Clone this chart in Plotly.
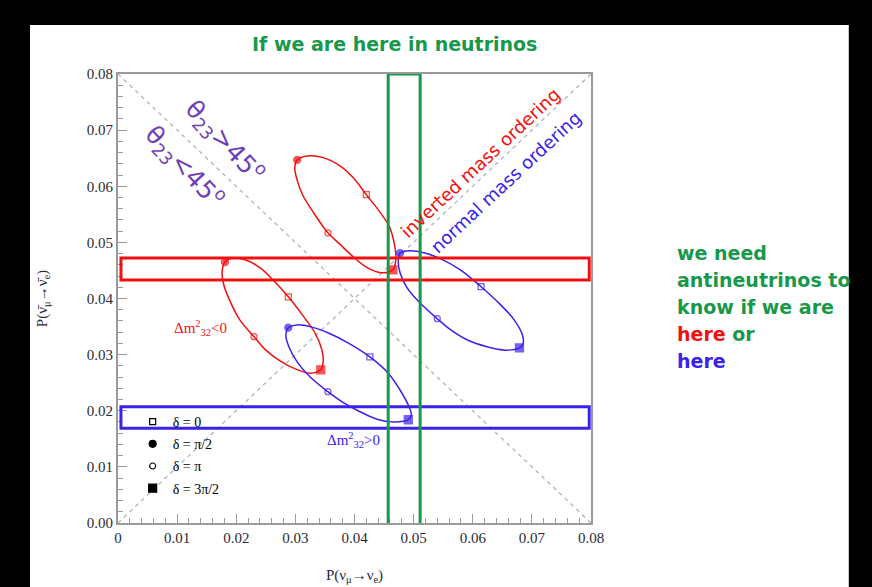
import plotly.graph_objects as go

# ---------------- data ----------------
# Ellipse outlines: P(nu_mu->nu_e) (x) vs P(anti-nu_mu->anti-nu_e) (y), delta swept 0..2pi
io_upper_x = [0.0303, 0.0320, 0.0347, 0.0376, 0.0398, 0.0420, 0.0443, 0.0459, 0.0467, 0.0470,
              0.0465, 0.0445, 0.0420, 0.0396, 0.0376, 0.0355, 0.0332, 0.0313, 0.0303, 0.0299, 0.0303]
io_upper_y = [0.0647, 0.0654, 0.0651, 0.0636, 0.0615, 0.0585, 0.0554, 0.0528, 0.0499, 0.0472,
              0.0451, 0.0446, 0.0456, 0.0476, 0.0496, 0.0517, 0.0551, 0.0583, 0.0611, 0.0633, 0.0647]

io_lower_x = [0.0181, 0.0195, 0.0215, 0.0240, 0.0264, 0.0288, 0.0313, 0.0333, 0.0345, 0.0347,
              0.0343, 0.0325, 0.0299, 0.0274, 0.0250, 0.0230, 0.0206, 0.0190, 0.0179, 0.0176, 0.0181]
io_lower_y = [0.0465, 0.0472, 0.0469, 0.0455, 0.0431, 0.0403, 0.0369, 0.0339, 0.0308, 0.0287,
              0.0273, 0.0267, 0.0275, 0.0289, 0.0308, 0.0332, 0.0362, 0.0394, 0.0424, 0.0447, 0.0465]

no_upper_x = [0.0477, 0.0494, 0.0519, 0.0545, 0.0579, 0.0614, 0.0646, 0.0670, 0.0684, 0.0685,
              0.0679, 0.0655, 0.0624, 0.0591, 0.0563, 0.0540, 0.0511, 0.0489, 0.0477, 0.0474, 0.0477]
no_upper_y = [0.0481, 0.0485, 0.0481, 0.0471, 0.0451, 0.0421, 0.0390, 0.0362, 0.0335, 0.0319,
              0.0312, 0.0308, 0.0314, 0.0326, 0.0344, 0.0364, 0.0392, 0.0419, 0.0446, 0.0465, 0.0481]

no_lower_x = [0.0288, 0.0303, 0.0328, 0.0355, 0.0389, 0.0426, 0.0457, 0.0477, 0.0491, 0.0496,
              0.0491, 0.0467, 0.0438, 0.0406, 0.0379, 0.0355, 0.0325, 0.0303, 0.0289, 0.0284, 0.0288]
no_lower_y = [0.0348, 0.0353, 0.0349, 0.0339, 0.0321, 0.0296, 0.0267, 0.0237, 0.0210, 0.0193,
              0.0184, 0.0180, 0.0185, 0.0200, 0.0216, 0.0234, 0.0260, 0.0287, 0.0314, 0.0333, 0.0348]

# Marker points at delta = 0, pi/2, pi, 3pi/2
delta_labels = ["δ = 0", "δ = π/2", "δ = π", "δ = 3π/2"]
io_upper_dx = [0.0420, 0.0303, 0.0355, 0.0465]
io_upper_dy = [0.0585, 0.0647, 0.0517, 0.0451]
io_lower_dx = [0.0288, 0.0181, 0.0230, 0.0343]
io_lower_dy = [0.0403, 0.0465, 0.0332, 0.0273]
no_upper_dx = [0.0614, 0.0477, 0.0540, 0.0679]
no_upper_dy = [0.0421, 0.0481, 0.0364, 0.0312]
no_lower_dx = [0.0426, 0.0288, 0.0355, 0.0491]
no_lower_dy = [0.0296, 0.0348, 0.0234, 0.0184]

# Highlight bands
green_band_x = [0.0457, 0.0511]
red_band_y = [0.0433, 0.0472]
blue_band_y = [0.0169, 0.0207]
band_x_span = [0.0005, 0.0797]

axis_range = [0.0, 0.08]
tick_vals = [0.0, 0.01, 0.02, 0.03, 0.04, 0.05, 0.06, 0.07, 0.08]
x_tick_text = ["0", "0.01", "0.02", "0.03", "0.04", "0.05", "0.06", "0.07", "0.08"]
y_tick_text = ["0.00", "0.01", "0.02", "0.03", "0.04", "0.05", "0.06", "0.07", "0.08"]

# right-hand message, one entry per line
message_lines = [
    "we need",
    "antineutrinos to",
    "know if we are",
    "<span style='color:#f01010'>here</span> or",
    "<span style='color:#3a22e8'>here</span>",
]

# ---------------- styling ----------------
RED = "#f01010"
BLUE = "#3a22e8"
GREEN = "#17984a"
PURPLE = "#6e3fb8"
GRAY = "#9a9a9a"
SERIF = "Liberation Serif, Times New Roman, serif"
SANS = "DejaVu Sans, Verdana, sans-serif"
symbols = ["square-open", "circle", "circle-open", "square"]
sizes = [6, 7, 6, 8]

fig = go.Figure()

# diagonals
for ya, yb in [(axis_range[1], axis_range[0]), (axis_range[0], axis_range[1])]:
    fig.add_trace(go.Scatter(x=[axis_range[0], axis_range[1]], y=[ya, yb],
                             mode="lines", line=dict(color="#b8b8b8", width=1.4, dash="4px,4px"),
                             showlegend=False, hoverinfo="skip"))

ellipses = [
    (io_upper_x, io_upper_y, io_upper_dx, io_upper_dy, RED),
    (io_lower_x, io_lower_y, io_lower_dx, io_lower_dy, RED),
    (no_upper_x, no_upper_y, no_upper_dx, no_upper_dy, BLUE),
    (no_lower_x, no_lower_y, no_lower_dx, no_lower_dy, BLUE),
]
for ex, ey, dx, dy, col in ellipses:
    fig.add_trace(go.Scatter(x=ex, y=ey, mode="lines",
                             line=dict(color=col, width=1.5, shape="spline", smoothing=1.0),
                             showlegend=False, hoverinfo="skip"))
    fig.add_trace(go.Scatter(x=dx, y=dy, mode="markers",
                             marker=dict(symbol=symbols, size=sizes, color=col,
                                         line=dict(color=col, width=1.3)),
                             showlegend=False))

# legend entries (black markers)
for i, lab in enumerate(delta_labels):
    fig.add_trace(go.Scatter(x=[None], y=[None], mode="markers", name=lab, legendgroup=lab,
                             marker=dict(symbol=symbols[i], size=sizes[i], color="black",
                                         line=dict(color="black", width=1.2))))

shapes = [
    # white slide panel
    dict(type="rect", xref="paper", yref="paper", x0=-0.186, x1=1.545, y0=-0.16, y1=1.109,
         fillcolor="white", line=dict(width=0), layer="below"),
    dict(type="rect", xref="x", yref="y", x0=band_x_span[0], x1=band_x_span[1],
         y0=red_band_y[0], y1=red_band_y[1], line=dict(color=RED, width=3)),
    dict(type="rect", xref="x", yref="y", x0=band_x_span[0], x1=band_x_span[1],
         y0=blue_band_y[0], y1=blue_band_y[1], line=dict(color=BLUE, width=3)),
    dict(type="rect", xref="x", yref="y", x0=green_band_x[0], x1=green_band_x[1],
         y0=-0.0003, y1=0.0800, line=dict(color=GREEN, width=3)),
]

annotations = [
    dict(text="<b>If we are here in neutrinos</b>", xref="paper", yref="paper",
         x=0.5856, y=1.0668, xanchor="center", yanchor="middle", showarrow=False,
         font=dict(family=SANS, size=19, color=GREEN)),
    dict(text="θ<sub>23</sub>>45<sup>o</sup>", xref="x", yref="y", x=0.0180, y=0.0680,
         textangle=47, showarrow=False, font=dict(family=SANS, size=25, color=PURPLE)),
    dict(text="θ<sub>23</sub><45<sup>o</sup>", xref="x", yref="y", x=0.0113, y=0.0635,
         textangle=47, showarrow=False, font=dict(family=SANS, size=25, color=PURPLE)),
    dict(text="inverted mass ordering", xref="x", yref="y", x=0.0613, y=0.0643,
         textangle=-43, showarrow=False, font=dict(family=SANS, size=18, color=RED)),
    dict(text="normal mass ordering", xref="x", yref="y", x=0.0657, y=0.0608,
         textangle=-43, showarrow=False, font=dict(family=SANS, size=18, color=BLUE)),
    dict(text="Δm<sup>2</sup><sub>32</sub><0", xref="x", yref="y", x=0.0139, y=0.0348,
         showarrow=False, font=dict(family=SERIF, size=15, color=RED)),
    dict(text="Δm<sup>2</sup><sub>32</sub>>0", xref="x", yref="y", x=0.0399, y=0.0148,
         showarrow=False, font=dict(family=SERIF, size=15, color=BLUE)),
    # arrows
    dict(text="", xref="x", yref="y", x=0.0819, y=0.0451, ax=63, ay=65, axref="pixel", ayref="pixel",
         showarrow=True, arrowhead=2, arrowsize=1.2, arrowwidth=2, arrowcolor=RED),
    dict(text="", xref="x", yref="y", x=0.0821, y=0.0198, ax=57, ay=-47, axref="pixel", ayref="pixel",
         showarrow=True, arrowhead=2, arrowsize=1.2, arrowwidth=2, arrowcolor=BLUE),
]
# message block: lines 27 px apart starting at pixel row 253
for i, line in enumerate(message_lines):
    annotations.append(dict(text=f"<b>{line}</b>", xref="paper", yref="paper",
                            x=1.1776, y=(523 - 253 - 27 * i) / 449, xanchor="left", yanchor="middle",
                            align="left", showarrow=False,
                            font=dict(family=SANS, size=19, color=GREEN)))

axis_common = dict(range=axis_range, tickvals=tick_vals, showgrid=False, zeroline=False,
                   showline=True, linecolor=GRAY, linewidth=2, mirror=True, automargin=False,
                   ticks="inside", ticklen=9, tickwidth=1, tickcolor=GRAY,
                   minor=dict(ticks="inside", ticklen=5, dtick=0.002, tickcolor=GRAY),
                   tickfont=dict(family=SERIF, size=15, color="#2a2a3a"))

fig.update_layout(
    width=872, height=587,
    margin=dict(l=118, r=281, t=74, b=64),
    paper_bgcolor="black", plot_bgcolor="white",
    xaxis=dict(**axis_common, ticktext=x_tick_text,
               title=dict(text="P(ν<sub>μ</sub>→ν<sub>e</sub>)", standoff=24,
                          font=dict(family=SERIF, size=15, color="#2a2a3a"))),
    yaxis=dict(**axis_common, ticktext=y_tick_text,
               title=dict(text="P(ν̄<sub>μ</sub>→ν̄<sub>e</sub>)", standoff=36,
                          font=dict(family=SERIF, size=15, color="#2a2a3a"))),
    shapes=shapes, annotations=annotations,
    legend=dict(x=0.031, y=0.2606, xanchor="left", yanchor="top", bgcolor="rgba(0,0,0,0)",
                font=dict(family=SERIF, size=14, color="black"), tracegroupgap=1,
                itemsizing="trace"),
    showlegend=True,
)

fig.write_html("out.html", config={"displayModeBar": False},
               post_script="document.body.style.margin='0';document.body.style.background='black';")
